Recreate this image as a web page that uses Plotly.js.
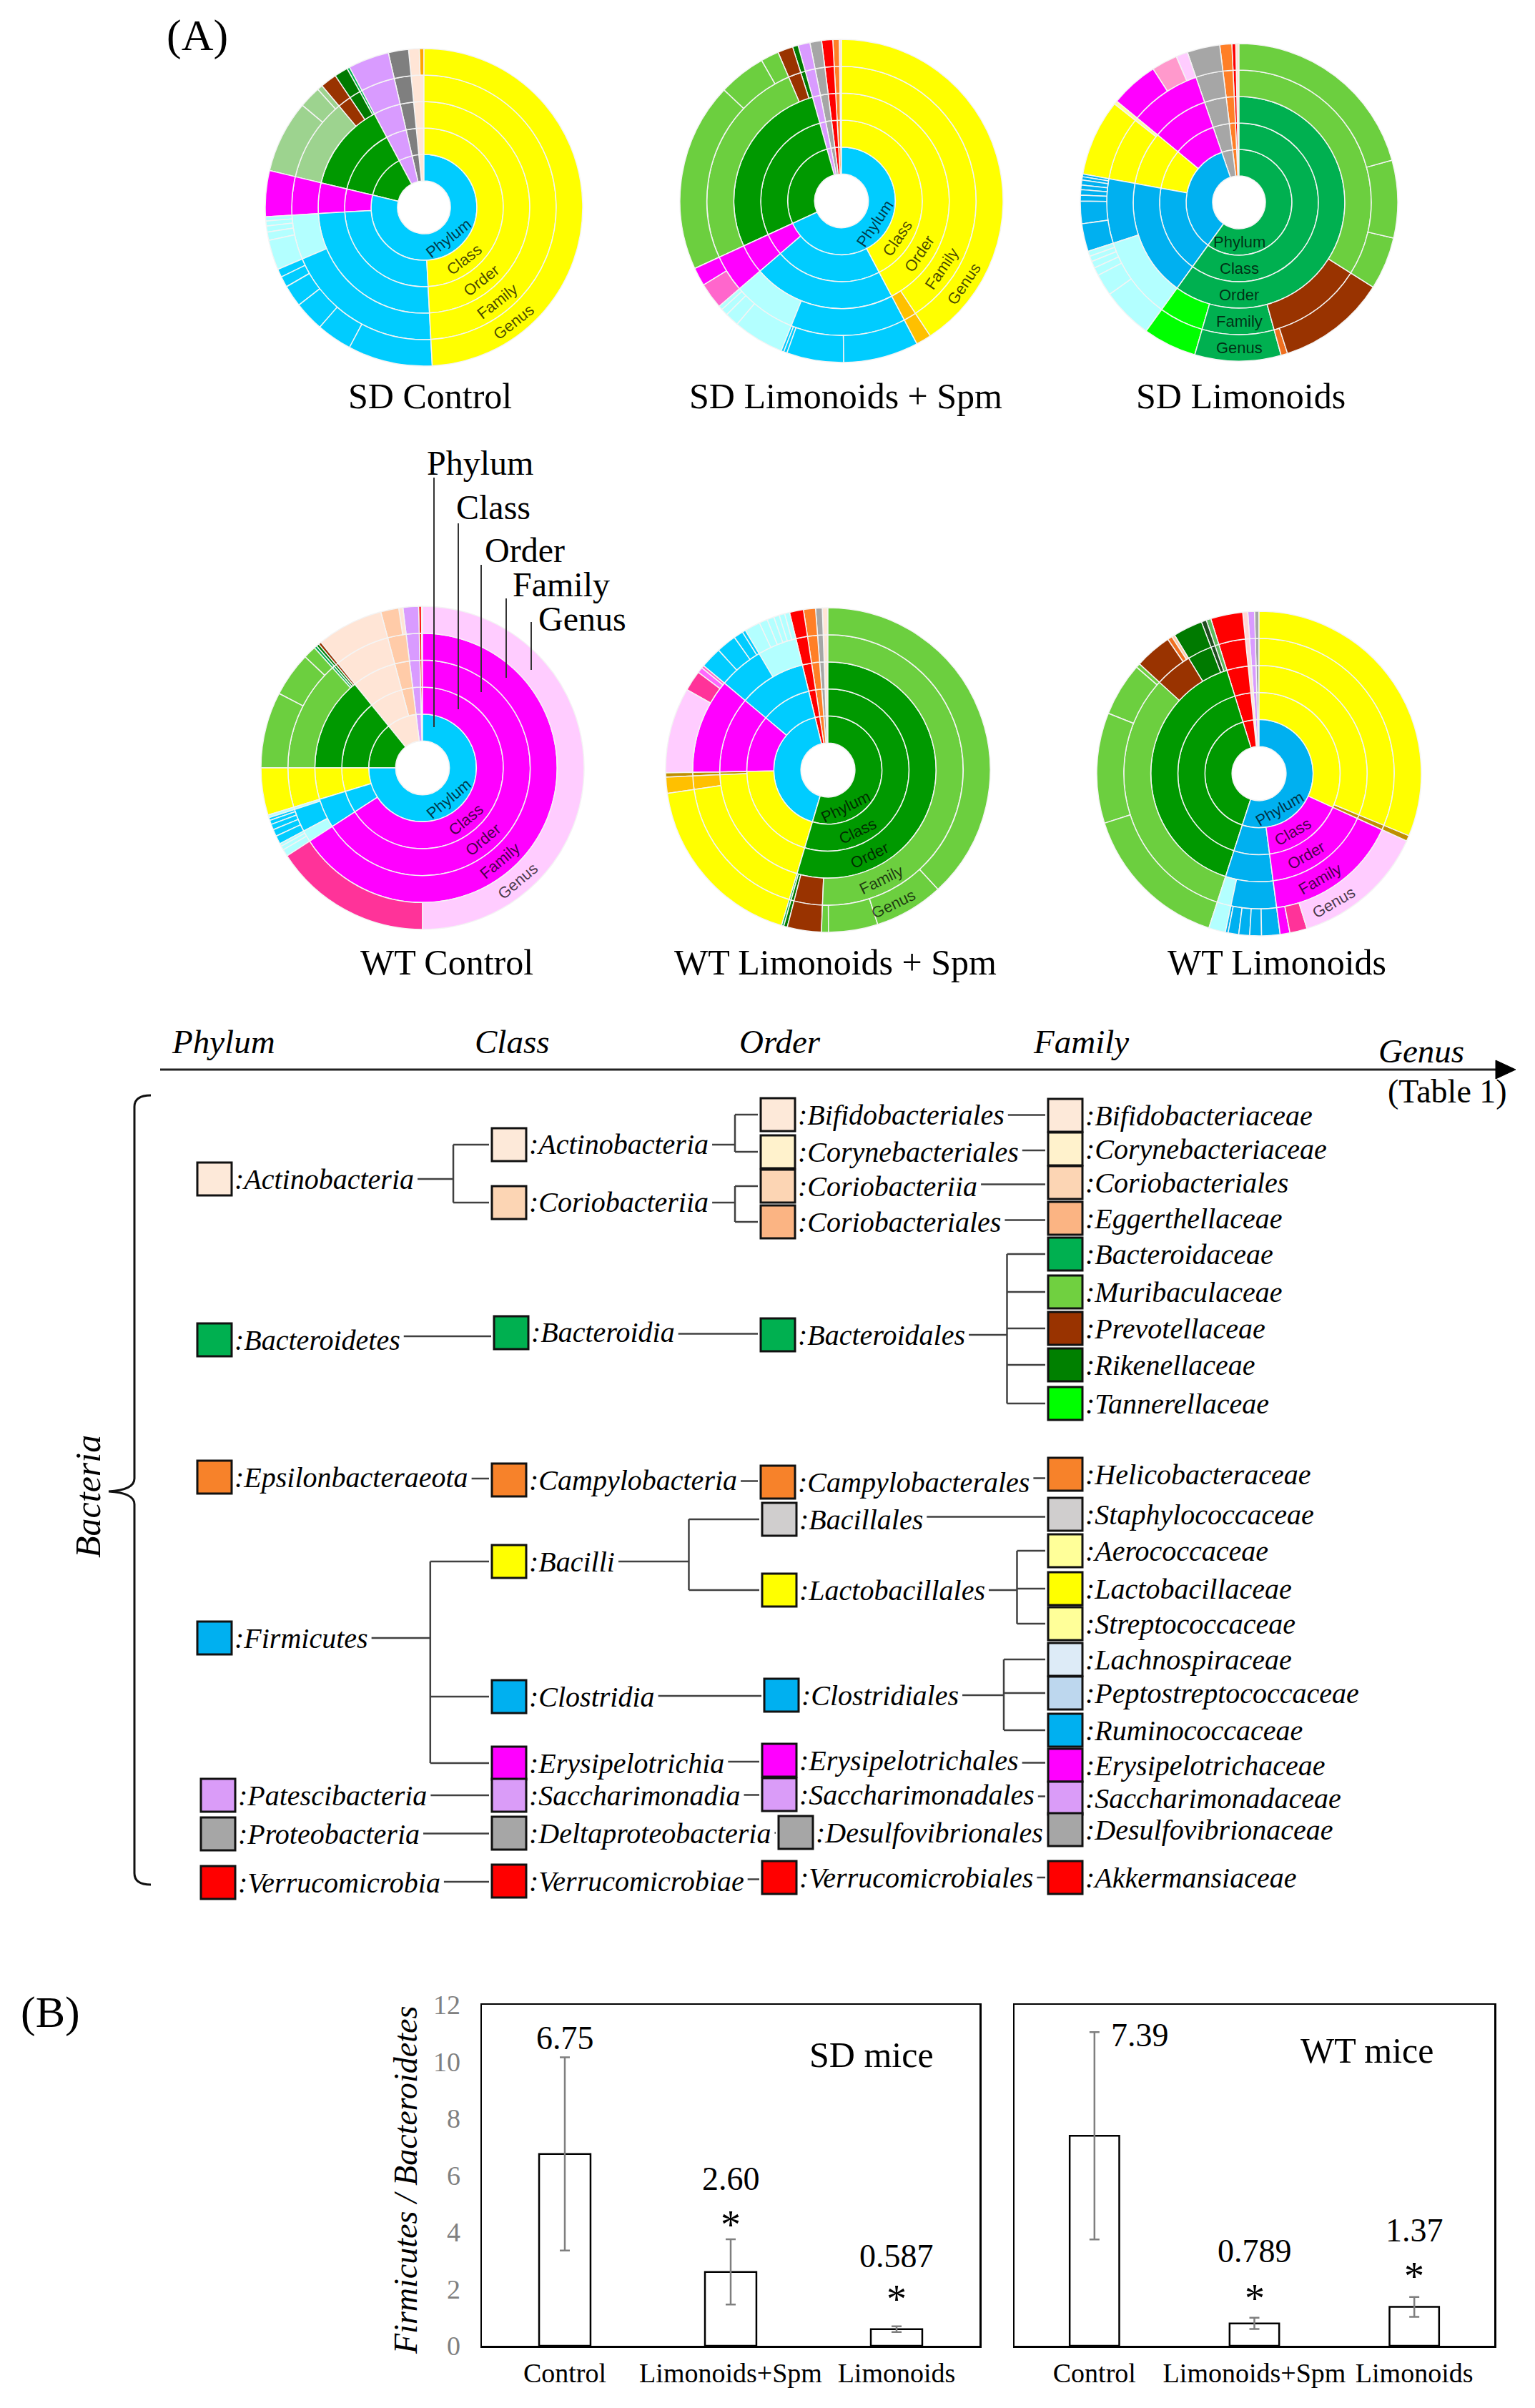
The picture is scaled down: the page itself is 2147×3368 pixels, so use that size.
<!DOCTYPE html>
<html><head><meta charset="utf-8">
<script src="https://cdn.plot.ly/plotly-3.0.1.min.js"></script>
<style>html,body{margin:0;padding:0;background:#fff;}#fig{width:2147px;height:3368px;}</style>
</head><body><div id="fig"></div>
<script>
// ===================== DATA =====================
const levelNames = ['Phylum','Class','Order','Family','Genus'];
const sampleTitles = ['SD Control','SD Limonoids + Spm','SD Limonoids','WT Control','WT Limonoids + Spm','WT Limonoids'];

// family -> phylum>class>order
const familyLineage = {
  Lactobacillaceae:'Firmicutes>Bacilli>Lactobacillales',
  Streptococcaceae:'Firmicutes>Bacilli>Lactobacillales',
  Aerococcaceae:'Firmicutes>Bacilli>Lactobacillales',
  Staphylococcaceae:'Firmicutes>Bacilli>Bacillales',
  Ruminococcaceae:'Firmicutes>Clostridia>Clostridiales',
  Lachnospiraceae:'Firmicutes>Clostridia>Clostridiales',
  Peptostreptococcaceae:'Firmicutes>Clostridia>Clostridiales',
  Erysipelotrichaceae:'Firmicutes>Erysipelotrichia>Erysipelotrichales',
  Muribaculaceae:'Bacteroidetes>Bacteroidia>Bacteroidales',
  Prevotellaceae:'Bacteroidetes>Bacteroidia>Bacteroidales',
  Rikenellaceae:'Bacteroidetes>Bacteroidia>Bacteroidales',
  Bacteroidaceae:'Bacteroidetes>Bacteroidia>Bacteroidales',
  Tannerellaceae:'Bacteroidetes>Bacteroidia>Bacteroidales',
  Saccharimonadaceae:'Patescibacteria>Saccharimonadia>Saccharimonadales',
  Desulfovibrionaceae:'Proteobacteria>Deltaproteobacteria>Desulfovibrionales',
  Bifidobacteriaceae:'Actinobacteria>Actinobacteria>Bifidobacteriales',
  Eggerthellaceae:'Actinobacteria>Coriobacteriia>Coriobacteriales',
  Helicobacteraceae:'Epsilonbacteraeota>Campylobacteria>Campylobacterales',
  Akkermansiaceae:'Verrucomicrobia>Verrucomicrobiae>Verrucomicrobiales'
};

// leaves (family|genus) in clockwise order from 12 o'clock, with arc share (degrees)
const sdControlTaxa = ['Lactobacillaceae|Lactobacillus',
 'Ruminococcaceae|UCG-014','Ruminococcaceae|Oscillibacter','Ruminococcaceae|Ruminiclostridium','Ruminococcaceae|Ruminococcus','Ruminococcaceae|Anaerotruncus','Ruminococcaceae|Butyricicoccus',
 'Lachnospiraceae|NK4A136','Lachnospiraceae|Roseburia','Lachnospiraceae|Blautia','Lachnospiraceae|Lachnoclostridium','Lachnospiraceae|Dorea',
 'Erysipelotrichaceae|Allobaculum',
 'Muribaculaceae|uncultured','Muribaculaceae|Muribaculum','Muribaculaceae|Duncaniella',
 'Prevotellaceae|UCG-001','Rikenellaceae|Alistipes','Bacteroidaceae|Bacteroides',
 'Saccharimonadaceae|Saccharimonas','Desulfovibrionaceae|Desulfovibrio',
 'Eggerthellaceae|Adlercreutzia','Eggerthellaceae|Enterorhabdus'];
const sdControlDeg = [177, 31,13,11,8,4,3, 11,3,2.2,1.8,1.6, 16.8, 26.6,8,2, 6,5,1, 15,7.4, 3.9,1.7];

const sdLimSpmTaxa = ['Lactobacillaceae|Lactobacillus','Streptococcaceae|Streptococcus',
 'Ruminococcaceae|UCG-014','Ruminococcaceae|Oscillibacter','Ruminococcaceae|Ruminiclostridium','Ruminococcaceae|Ruminococcus',
 'Lachnospiraceae|NK4A136','Lachnospiraceae|Roseburia','Lachnospiraceae|Blautia','Lachnospiraceae|Lachnoclostridium',
 'Erysipelotrichaceae|Turicibacter','Erysipelotrichaceae|Allobaculum',
 'Muribaculaceae|uncultured','Muribaculaceae|Muribaculum','Muribaculaceae|Duncaniella',
 'Prevotellaceae|UCG-001','Rikenellaceae|Alistipes',
 'Saccharimonadaceae|Saccharimonas','Desulfovibrionaceae|Desulfovibrio','Akkermansiaceae|Akkermansia',
 'Helicobacteraceae|Helicobacter','Bifidobacteriaceae|Bifidobacterium'];
const sdLimSpmDeg = [146.5,5.5, 27,20.5,1.2,1, 18.3,5,2.5,1.5, 9.4,6.6, 68,17,6.5, 5.5,2, 4.3,4.2,4.0, 2.3,0.8];

const sdLimTaxa = ['Muribaculaceae|uncultured','Muribaculaceae|Muribaculum','Muribaculaceae|Duncaniella',
 'Prevotellaceae|UCG-001','Prevotellaceae|Prevotella','Bacteroidaceae|Bacteroides','Tannerellaceae|Parabacteroides',
 'Lachnospiraceae|NK4A136','Lachnospiraceae|Roseburia','Lachnospiraceae|Blautia','Lachnospiraceae|Lachnoclostridium','Lachnospiraceae|Dorea','Lachnospiraceae|Tyzzerella',
 'Ruminococcaceae|UCG-014','Ruminococcaceae|Oscillibacter','Ruminococcaceae|Ruminiclostridium','Ruminococcaceae|Ruminococcus','Ruminococcaceae|Anaerotruncus','Ruminococcaceae|Butyricicoccus','Ruminococcaceae|Harryflintia','Ruminococcaceae|Intestinimonas',
 'Lactobacillaceae|Lactobacillus','Aerococcaceae|Aerococcus',
 'Erysipelotrichaceae|Allobaculum','Erysipelotrichaceae|Erysipelatoclostridium','Erysipelotrichaceae|Dubosiella',
 'Desulfovibrionaceae|Desulfovibrio','Helicobacteraceae|Helicobacter','Akkermansiaceae|Akkermansia','Bifidobacteriaceae|Bifidobacterium'];
const sdLimDeg = [74.6,28.4,19.3, 39.9,2.4,31.6,19.6, 18.8,8,3,2.5,2,1.9, 10.2,8.2,2.2,2,1.7,1.8,1.2,1.0, 28,1.3, 17.6,9.5,4.3, 12,4.4,1.4,1.2];

const wtControlTaxa = ['Erysipelotrichaceae|Dubosiella','Erysipelotrichaceae|Faecalibaculum',
 'Lachnospiraceae|NK4A136','Lachnospiraceae|Roseburia','Lachnospiraceae|Blautia',
 'Ruminococcaceae|UCG-014','Ruminococcaceae|Oscillibacter','Ruminococcaceae|Ruminiclostridium','Ruminococcaceae|Ruminococcus','Ruminococcaceae|Anaerotruncus',
 'Peptostreptococcaceae|Romboutsia','Lactobacillaceae|Lactobacillus',
 'Muribaculaceae|uncultured','Muribaculaceae|Muribaculum','Muribaculaceae|Duncaniella',
 'Bacteroidaceae|Bacteroides','Rikenellaceae|Alistipes','Prevotellaceae|UCG-001',
 'Bifidobacteriaceae|Bifidobacterium','Eggerthellaceae|Adlercreutzia','Eggerthellaceae|Gordonibacter',
 'Saccharimonadaceae|Saccharimonas','Akkermansiaceae|Akkermansia','Desulfovibrionaceae|Desulfovibrio'];
const wtControlDeg = [180,57, 2.5,1.5,1, 3,2.5,2,1.5,1, 1,17, 27.4,16,4.6, 1,1,1, 24,6.5,1.5, 5.6,1,0.4];

const wtLimSpmTaxa = ['Muribaculaceae|uncultured','Muribaculaceae|Muribaculum','Muribaculaceae|Duncaniella','Muribaculaceae|Paramuribaculum',
 'Prevotellaceae|UCG-001','Rikenellaceae|Alistipes','Bacteroidaceae|Bacteroides',
 'Lactobacillaceae|Lactobacillus','Streptococcaceae|Streptococcus','Staphylococcaceae|Staphylococcus',
 'Erysipelotrichaceae|Dubosiella','Erysipelotrichaceae|Faecalibaculum','Erysipelotrichaceae|Ileibacterium','Erysipelotrichaceae|Turicibacter',
 'Ruminococcaceae|UCG-014','Ruminococcaceae|Oscillibacter','Ruminococcaceae|Ruminiclostridium','Ruminococcaceae|Ruminococcus',
 'Lachnospiraceae|NK4A136','Lachnospiraceae|Roseburia','Lachnospiraceae|Blautia','Lachnospiraceae|Lachnoclostridium','Lachnospiraceae|Dorea','Lachnospiraceae|Tyzzerella',
 'Akkermansiaceae|Akkermansia','Helicobacteraceae|Helicobacter','Desulfovibrionaceae|Desulfovibrio','Bifidobacteriaceae|Bifidobacterium'];
const wtLimSpmDeg = [137.3,24.8,17.7,2.5, 12.2,1.3,0.8, 65.1,5.8,1.5, 30.7,7.3,2,1, 7.6,7.2,3.4,1.2, 5.6,3,2.5,2,2,1.8, 5,4.3,2.4,2];

const wtLimTaxa = ['Lactobacillaceae|Lactobacillus','Staphylococcaceae|Staphylococcus',
 'Erysipelotrichaceae|Dubosiella','Erysipelotrichaceae|Faecalibaculum','Erysipelotrichaceae|Allobaculum',
 'Ruminococcaceae|UCG-014','Ruminococcaceae|Oscillibacter','Ruminococcaceae|Ruminiclostridium','Ruminococcaceae|Ruminococcus','Ruminococcaceae|Anaerotruncus',
 'Lachnospiraceae|NK4A136',
 'Muribaculaceae|uncultured','Muribaculaceae|Muribaculum','Muribaculaceae|Duncaniella','Muribaculaceae|Paramuribaculum',
 'Prevotellaceae|UCG-001','Prevotellaceae|Prevotella','Prevotellaceae|Alloprevotella',
 'Rikenellaceae|Alistipes','Bacteroidaceae|Bacteroides','Tannerellaceae|Parabacteroides',
 'Akkermansiaceae|Akkermansia','Bifidobacteriaceae|Bifidobacterium','Saccharimonadaceae|Saccharimonas','Desulfovibrionaceae|Desulfovibrio'];
const wtLimDeg = [112.5,2, 48.3,6.2,3.5, 6.6,4.2,3.9,3.8,1, 6, 54.2,39.6,19.2,1.5, 13.3,1.7,1.1, 10.6,1.8,1.7, 11.5,1.8,2.4,1.6];

// bar chart (B)
const barCategories = ['Control','Limonoids+Spm','Limonoids'];
const sdRatio = [6.75, 2.60, 0.587];
const sdRatioErr = [3.4, 1.15, 0.1];
const sdRatioText = ['6.75','2.60','0.587'];
const sdSignificant = [false, true, true];
const wtRatio = [7.39, 0.789, 1.37];
const wtRatioErr = [3.65, 0.2, 0.35];
const wtRatioText = ['7.39','0.789','1.37'];
const wtSignificant = [false, true, true];

// taxonomy tree legend
const phylumNames = ['Actinobacteria','Bacteroidetes','Epsilonbacteraeota','Firmicutes','Patescibacteria','Proteobacteria','Verrucomicrobia'];
const classNames = ['Actinobacteria','Coriobacteriia','Bacteroidia','Campylobacteria','Bacilli','Clostridia','Erysipelotrichia','Saccharimonadia','Deltaproteobacteria','Verrucomicrobiae'];
const classParent = [0,0,1,2,3,3,3,4,5,6];
const orderNames = ['Bifidobacteriales','Corynebacteriales','Coriobacteriia','Coriobacteriales','Bacteroidales','Campylobacterales','Bacillales','Lactobacillales','Clostridiales','Erysipelotrichales','Saccharimonadales','Desulfovibrionales','Verrucomicrobiales'];
const orderParent = [0,0,1,1,2,3,4,4,5,6,7,8,9];
const familyNames = ['Bifidobacteriaceae','Corynebacteriaceae','Coriobacteriales','Eggerthellaceae','Bacteroidaceae','Muribaculaceae','Prevotellaceae','Rikenellaceae','Tannerellaceae','Helicobacteraceae','Staphylococcaceae','Aerococcaceae','Lactobacillaceae','Streptococcaceae','Lachnospiraceae','Peptostreptococcaceae','Ruminococcaceae','Erysipelotrichaceae','Saccharimonadaceae','Desulfovibrionaceae','Akkermansiaceae'];
const familyParent = [0,1,2,3,4,4,4,4,4,5,6,7,7,7,8,8,8,9,10,11,12];

// ===================== STYLES =====================
const phylumColors = ['#FDE9D9','#00B050','#F7822A','#00B0F0','#DA9CF8','#A6A6A6','#FF0000'];
const classColors = ['#FDE9D9','#FCD5B4','#00B050','#F7822A','#FFFF00','#00B0F0','#FF00FF','#DA9CF8','#A6A6A6','#FF0000'];
const orderColors = ['#FDE9D9','#FFF2CC','#FCD5B4','#FBB483','#00B050','#F7822A','#D0CECE','#FFFF00','#00B0F0','#FF00FF','#DA9CF8','#A6A6A6','#FF0000'];
const familyColors = ['#FDE9D9','#FFF2CC','#FCD5B4','#FBB483','#00B050','#70D040','#993300','#008000','#00FF00','#F7822A','#D0CECE','#FFFF99','#FFFF00','#FFFF99','#DDEBF7','#BDD7EE','#00B0F0','#FF00FF','#DA9CF8','#A6A6A6','#FF0000'];

const sbColor = {
 Firmicutes:'#00CCFF', Bacilli:'#FFFF00', Lactobacillales:'#FFFF00', Lactobacillaceae:'#FFFF00',
 Streptococcaceae:'#FFC000', Aerococcaceae:'#FFFF99', Bacillales:'#BF8F00', Staphylococcaceae:'#BF8F00',
 Clostridia:'#00CCFF', Clostridiales:'#00CCFF', Ruminococcaceae:'#00CCFF', Lachnospiraceae:'#B3FFFF', Peptostreptococcaceae:'#B3FFFF',
 Erysipelotrichia:'#FF00FF', Erysipelotrichales:'#FF00FF', Erysipelotrichaceae:'#FF00FF',
 Bacteroidetes:'#009900', Bacteroidia:'#009900', Bacteroidales:'#009900',
 Muribaculaceae:'#6CCF3F', Prevotellaceae:'#993300', Rikenellaceae:'#007A00', Bacteroidaceae:'#00B050', Tannerellaceae:'#00FF00',
 Patescibacteria:'#D99BFF', Saccharimonadia:'#D99BFF', Saccharimonadales:'#D99BFF', Saccharimonadaceae:'#D99BFF',
 Proteobacteria:'#A6A6A6', Deltaproteobacteria:'#A6A6A6', Desulfovibrionales:'#A6A6A6', Desulfovibrionaceae:'#A6A6A6',
 Actinobacteria:'#FFE5D6', Bifidobacteriales:'#FFE5D6', Bifidobacteriaceae:'#FFE5D6', Coriobacteriia:'#FFE5D6', Coriobacteriales:'#FFE5D6', Eggerthellaceae:'#FFE5D6',
 Epsilonbacteraeota:'#FF7F27', Campylobacteria:'#FF7F27', Campylobacterales:'#FF7F27', Helicobacteraceae:'#FF7F27',
 Verrucomicrobia:'#FF0000', Verrucomicrobiae:'#FF0000', Verrucomicrobiales:'#FF0000', Akkermansiaceae:'#FF0000'
};
const genusColor = {Dubosiella:'#FFCCFF', Faecalibaculum:'#FF3399', Allobaculum:'#FF00FF', Turicibacter:'#FF66CC',
 Erysipelatoclostridium:'#FF99CC', Ileibacterium:'#FF66FF', Enterorhabdus:'#FFA500', Gordonibacter:'#FFE5D6',
 Prevotella:'#F07020', Alloprevotella:'#FFCBA8'};
const grayDark = {Proteobacteria:'#7F7F7F', Deltaproteobacteria:'#7F7F7F', Desulfovibrionales:'#7F7F7F', Desulfovibrionaceae:'#7F7F7F'};
const sampleColorOverride = [
 Object.assign({Muribaculaceae:'#9DD38F'}, grayDark),
 {},
 {Firmicutes:'#00B0F0', Clostridia:'#00B0F0', Clostridiales:'#00B0F0', Ruminococcaceae:'#00B0F0', Bacteroidetes:'#00B050', Bacteroidia:'#00B050', Bacteroidales:'#00B050'},
 {Coriobacteriia:'#FFCBA8', Coriobacteriales:'#FFCBA8', Eggerthellaceae:'#FFCBA8'},
 {},
 {Firmicutes:'#00B0F0', Clostridia:'#00B0F0', Clostridiales:'#00B0F0', Ruminococcaceae:'#00B0F0', Bacteroidaceae:'#1E4D1E', Tannerellaceae:'#5DBB5D', Bifidobacteriaceae:'#FFD5D5'}
];

// ===================== LAYOUT (pixel positions) =====================
const W = 2147, H = 3368;
const X = v => v / W, Y = v => 1 - v / H;
const sbGeom = [[593,290,222],[1177,281,226],[1733,283,222],[591,1074,226],[1158,1077,227],[1761,1082,227]];
const sbLabelAngle = [142,124,180,140,154,150];
const sbTitlePos = [[601,554],[1183,554],[1735,554],[625,1346],[1168,1346],[1786,1346]];
const sampleTaxa = [sdControlTaxa, sdLimSpmTaxa, sdLimTaxa, wtControlTaxa, wtLimSpmTaxa, wtLimTaxa];
const sampleDeg = [sdControlDeg, sdLimSpmDeg, sdLimDeg, wtControlDeg, wtLimSpmDeg, wtLimDeg];

const phylumY = [1649,1874,2066,2291,2511,2565,2633];
const classY = [1601,1682,1864,2070,2184,2373,2466,2511,2564,2631];
const orderY = [1559,1611,1659,1709,1867,2073,2125,2224,2371,2462,2510,2563,2626];
const familyY = [1560,1607,1654,1704,1754,1807,1858,1909,1963,2062,2118,2169,2222,2271,2321,2368,2420,2469,2515,2559,2626];
const phylumX = [300,300,300,300,305,305,305];
const classX = [712,712,715,712,712,712,712,712,712,712];
const orderX = [1088,1088,1088,1088,1088,1088,1090,1090,1093,1090,1090,1113,1090];
const familyX = familyNames.map(() => 1490);

const shapes = [], annotations = [], traces = [];
function line(x0,y0,x1,y1,color,width){ shapes.push({type:'line',xref:'paper',yref:'paper',x0:X(x0),y0:Y(y0),x1:X(x1),y1:Y(y1),line:{color:color||'#404040',width:width||2.5}}); }
function label(x,y,t,size,o){ o=o||{}; annotations.push({xref:'paper',yref:'paper',x:X(x),y:Y(y),text:t,showarrow:false,
  xanchor:o.xanchor||'center',yanchor:o.yanchor||'middle',textangle:o.angle||0,
  font:{family:o.family||'Liberation Serif',size:size,color:o.color||'#000',style:o.style||'normal'}}); }
function pathPx(pts){ return pts.map(p => p[0] + X(p[1]).toFixed(6) + ',' + Y(p[2]).toFixed(6)).join(' '); }

// ---------- sunbursts ----------
sampleTaxa.forEach((taxa, s) => {
  const deg = sampleDeg[s], over = sampleColorOverride[s];
  const col = n => over[n] || sbColor[n];
  const ids=['root'], labels=[''], parents=[''], values=[0], colors=['#FFFFFF'];
  const seen = {root:true};
  for (let i = taxa.length - 1; i >= 0; i--) {
    const parts = taxa[i].split('|'), fam = parts[0], gen = parts[1];
    const path = familyLineage[fam].split('>').concat([fam, gen]);
    let parent = 'root';
    path.forEach((name, lvl) => {
      const id = parent + '/' + name;
      if (!seen[id]) {
        seen[id] = true;
        ids.push(id); labels.push(name); parents.push(parent);
        values.push(lvl === 4 ? deg[i] : 0);
        colors.push(lvl === 4 ? (over[name] || genusColor[name] || col(fam)) : col(name));
      }
      parent = id;
    });
  }
  const [cx, cy, R] = sbGeom[s];
  traces.push({type:'sunburst', ids, labels, parents, values, branchvalues:'remainder', sort:false, rotation:90,
    marker:{colors, line:{color:'#F4F4F4', width:1.5}}, leaf:{opacity:1}, textinfo:'none', hoverinfo:'none',
    domain:{x:[X(cx-R), X(cx+R)], y:[Y(cy+R), Y(cy-R)]}});
  const th = sbLabelAngle[s] * Math.PI / 180;
  levelNames.forEach((ln, k) => {
    const r = R * (k + 1.5) / 6;
    label(cx + r*Math.sin(th), cy - r*Math.cos(th), ln, 22, {family:'Liberation Sans', color:'rgba(0,0,0,0.72)', angle: sbLabelAngle[s] - 180});
  });
  label(sbTitlePos[s][0], sbTitlePos[s][1], sampleTitles[s], 50);
});

// WT Control callouts
const calloutText = [[595,648],[636,709],[676,769],[715,818],[751,865]];
const calloutLine = [[607,668,1017],[641,732,992],[673,790,968],[708,837,948],[743,870,937]];
levelNames.forEach((ln, k) => {
  label(calloutText[k][0], calloutText[k][1], ln, 48, {xanchor:'left'});
  line(calloutLine[k][0], calloutLine[k][1], calloutLine[k][0], calloutLine[k][2], '#333', 2);
});
label(276, 50, '(A)', 62);
label(70, 2814, '(B)', 62);

// ---------- taxonomy tree ----------
const headers = [['Phylum',312,1457],['Class',716,1457],['Order',1091,1457],['Family',1512,1457],['Genus',1988,1470]];
headers.forEach(h => label(h[1], h[2], h[0], 47, {style:'italic'}));
label(2024, 1526, '(Table 1)', 46);
line(224, 1496, 2098, 1496, '#222', 3);
shapes.push({type:'path', xref:'paper', yref:'paper', path:'M' + pathPx([['',2092,1483],[' L',2120,1496],[' L',2092,1509]]) + ' Z', fillcolor:'#000', line:{color:'#000',width:1}});
shapes.push({type:'path', xref:'paper', yref:'paper', line:{color:'#111',width:3},
  path: pathPx([['M',211,1532],[' Q',188,1532],[' ',188,1548],[' L',188,2068],[' Q',188,2084],[' ',152,2086],[' Q',188,2088],[' ',188,2104],[' L',188,2620],[' Q',188,2636],[' ',211,2636]])});
label(123, 2093, 'Bacteria', 50, {style:'italic', angle:-90});

const cv = document.createElement('canvas').getContext('2d');
const TREE_FONT = 40;
function tw(s){ cv.font = 'italic ' + TREE_FONT + 'px "Liberation Serif"'; return cv.measureText(s).width; }
const levels = [
  {names:phylumNames, colors:phylumColors, xs:phylumX, ys:phylumY},
  {names:classNames, colors:classColors, xs:classX, ys:classY, parent:classParent},
  {names:orderNames, colors:orderColors, xs:orderX, ys:orderY, parent:orderParent},
  {names:familyNames, colors:familyColors, xs:familyX, ys:familyY, parent:familyParent}
];
levels.forEach(L => {
  L.names.forEach((n, i) => {
    const x = L.xs[i], y = L.ys[i];
    shapes.push({type:'rect', xref:'paper', yref:'paper', x0:X(x-24), x1:X(x+24), y0:Y(y+23), y1:Y(y-23), fillcolor:L.colors[i], line:{color:'#111', width:3}});
    label(x + 26, y, ':' + n, TREE_FONT, {xanchor:'left', style:'italic'});
  });
});
for (let lv = 1; lv < levels.length; lv++) {
  const P = levels[lv-1], C = levels[lv];
  P.names.forEach((pn, p) => {
    const kids = C.parent.map((q, i) => q === p ? i : -1).filter(i => i >= 0);
    if (!kids.length) return;
    const pe = P.xs[p] + 28 + tw(':' + pn) + 5;
    const cl = i => C.xs[i] - 24 - 4;
    if (kids.length === 1) {
      const c = kids[0], yy = (P.ys[p] + C.ys[c]) / 2;
      if (cl(c) > pe) line(pe, yy, cl(c), yy);
    } else {
      const left = Math.min.apply(null, kids.map(cl));
      const fork = (pe + left) / 2;
      const ys = kids.map(i => C.ys[i]);
      line(pe, P.ys[p], fork, P.ys[p]);
      line(fork, Math.min.apply(null, ys), fork, Math.max.apply(null, ys));
      kids.forEach(i => line(fork, C.ys[i], cl(i), C.ys[i]));
    }
  });
}

// ---------- bar charts (B) ----------
const sdNumShift = [27, 84, 98], sdStarShift = [0, 20, 38];
const wtNumShift = [-4, 93, 93], wtStarShift = [0, 27, 29], wtNumXShift = [64, 0, 0];
[[sdRatio, sdRatioErr, 'x', 'y'], [wtRatio, wtRatioErr, 'x2', 'y2']].forEach(b => {
  traces.push({type:'bar', x:barCategories, y:b[0], xaxis:b[2], yaxis:b[3], width:0.31, hoverinfo:'skip',
    marker:{color:'#FFFFFF', line:{color:'#000', width:2.5}},
    error_y:{type:'data', array:b[1], visible:true, color:'#7F7F7F', thickness:2.5, width:7}});
});
function barNotes(vals, errs, texts, sig, numShift, starShift, xs, xref, yref) {
  vals.forEach((v, i) => {
    const top = v + errs[i];
    annotations.push({xref, yref, x:barCategories[i], y:top, yshift:numShift[i], xshift:xs ? xs[i] : 0, text:texts[i], showarrow:false,
      yanchor:'middle', font:{family:'Liberation Serif', size:46, color:'#000'}});
    if (sig[i]) annotations.push({xref, yref, x:barCategories[i], y:top, yshift:starShift[i], text:'*', showarrow:false,
      yanchor:'middle', font:{family:'Liberation Serif', size:56, color:'#000'}});
  });
}
barNotes(sdRatio, sdRatioErr, sdRatioText, sdSignificant, sdNumShift, sdStarShift, null, 'x', 'y');
barNotes(wtRatio, wtRatioErr, wtRatioText, wtSignificant, wtNumShift, wtStarShift, wtNumXShift, 'x2', 'y2');
label(1219, 2874, 'SD mice', 50);
label(1912, 2868, 'WT mice', 50);
label(567, 3050, 'Firmicutes / Bacteroidetes', 46, {style:'italic', angle:-90});

const xAxisBase = {type:'category', range:[-0.5,2.5], showline:true, mirror:true, linecolor:'#000', linewidth:2.5,
  ticks:'outside', ticklen:3, tickcolor:'rgba(0,0,0,0)', tickangle:0, automargin:false,
  tickfont:{family:'Liberation Serif', size:38, color:'#000'},
  showgrid:false, zeroline:false, fixedrange:true};
const yAxisBase = {range:[0,12], tick0:0, dtick:2, showline:true, mirror:true, linecolor:'#000', linewidth:2.5,
  showgrid:false, zeroline:false, fixedrange:true, automargin:false};

const layout = {
  width:W, height:H, margin:{l:0,r:0,t:0,b:0}, paper_bgcolor:'#FFFFFF', plot_bgcolor:'rgba(0,0,0,0)', showlegend:false,
  font:{family:'Liberation Serif'},
  xaxis:Object.assign({}, xAxisBase, {domain:[X(674), X(1370)], anchor:'y'}),
  yaxis:Object.assign({}, yAxisBase, {domain:[Y(3281), Y(2804)], anchor:'x', ticks:'outside', ticklen:20, tickcolor:'rgba(0,0,0,0)',
    tickfont:{family:'Liberation Serif', size:38, color:'#808080'}}),
  xaxis2:Object.assign({}, xAxisBase, {domain:[X(1419), X(2090)], anchor:'y2'}),
  yaxis2:Object.assign({}, yAxisBase, {domain:[Y(3281), Y(2804)], anchor:'x2', showticklabels:false, ticks:''}),
  shapes, annotations
};
Plotly.newPlot('fig', traces, layout, {staticPlot:true, displayModeBar:false});
</script></body></html>
